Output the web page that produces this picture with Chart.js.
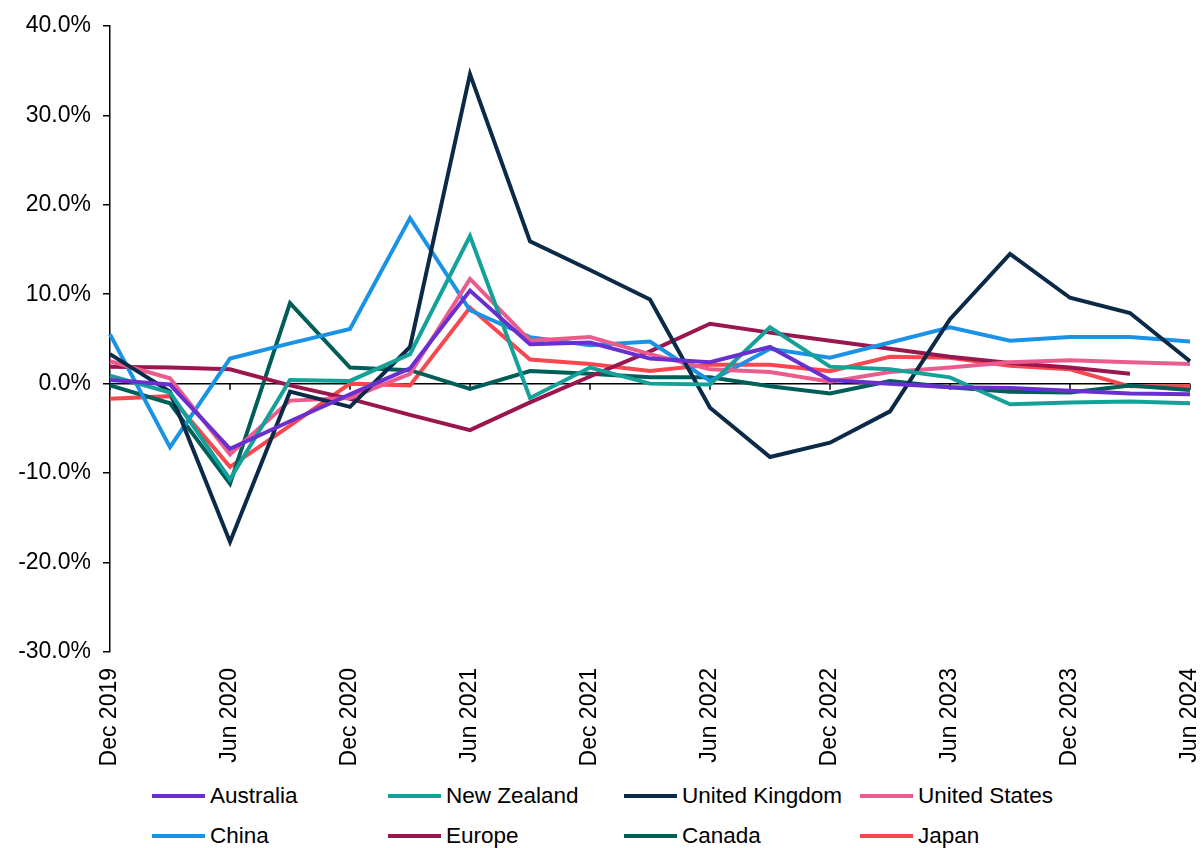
<!DOCTYPE html>
<html lang="en">
<head>
<meta charset="UTF-8">
<title>Chart</title>
<script src="https://cdn.jsdelivr.net/npm/chart.js@4.4.1/dist/chart.umd.min.js"></script>
<style>
    body{ margin:0; background:#fff; font-family:"Liberation Sans", Arial, sans-serif; }
    #board{ position:relative; width:1203px; height:775px; }
    #legend{ position:absolute; left:152px; top:782px; display:grid; grid-template-columns:236px 236px 236px 236px; row-gap:12px; }
    .item{ display:flex; align-items:center; font-size:22.5px; color:#000; height:28px; white-space:nowrap; }
    .swatch{ width:53px; height:4px; margin-right:5px; }
</style>
</head>
<body>
<div id="board"><canvas id="chart1"></canvas></div>
<div id="legend"></div>

<script>
const quarters = ['Dec 2019','Mar 2020','Jun 2020','Sep 2020','Dec 2020','Mar 2021','Jun 2021','Sep 2021','Dec 2021','Mar 2022','Jun 2022','Sep 2022','Dec 2022','Mar 2023','Jun 2023','Sep 2023','Dec 2023','Mar 2024','Jun 2024'];

// % change
const australia     = [0.4,-0.1,-7.3,-4.2,-1.2,1.7,10.4,4.4,4.6,2.8,2.4,4.1,0.4,0.0,-0.4,-0.5,-0.8,-1.1,-1.2];
const newZealand    = [0.9,-1.0,-10.7,0.4,0.3,3.3,16.5,-1.6,1.8,0.0,-0.1,6.3,1.9,1.6,0.7,-2.3,-2.1,-2.0,-2.2];
const unitedKingdom = [3.3,-0.9,-17.7,-0.9,-2.6,4.1,34.6,15.9,12.7,9.4,-2.7,-8.2,-6.6,-3.1,7.2,14.5,9.6,7.9,2.5];
const unitedStates  = [2.5,0.6,-7.9,-1.9,-1.6,1.1,11.7,4.8,5.2,3.3,1.6,1.3,0.2,1.3,1.8,2.4,2.6,2.4,2.2];
const china         = [5.5,-7.1,2.8,4.5,6.1,18.5,8.2,5.2,4.3,4.7,0.3,3.9,2.9,4.6,6.3,4.8,5.2,5.2,4.7];
const europe        = [1.9,1.8,1.6,-0.2,-1.7,-3.5,-5.2,-2.1,0.8,3.6,6.7,5.7,4.8,3.9,3.0,2.3,1.8,1.1,null];
const canada        = [-0.2,-2.2,-11.2,9.0,1.8,1.5,-0.6,1.4,1.1,0.7,0.7,-0.3,-1.1,0.3,-0.4,-0.9,-1.0,-0.2,-0.7];
const japan         = [-1.7,-1.4,-9.3,-4.7,0.0,-0.2,8.5,2.7,2.2,1.4,2.1,2.1,1.4,3.0,2.9,2.0,1.6,-0.3,-0.3];

const yTicks = [40,30,20,10,0,-10,-20,-30];

const series = [
    {label:'Australia',      data:australia,     color:'#6a2fcf'},
    {label:'New Zealand',    data:newZealand,    color:'#14a19a'},
    {label:'United Kingdom', data:unitedKingdom, color:'#0b2a48'},
    {label:'United States',  data:unitedStates,  color:'#ec5b8e'},
    {label:'China',          data:china,         color:'#1a93e6'},
    {label:'Europe',         data:europe,        color:'#99164f'},
    {label:'Canada',         data:canada,        color:'#005e59'},
    {label:'Japan',          data:japan,         color:'#f9474f'}
];

// black zero line with small ticks under it
const zeroAxis = {
    id:'zeroAxis',
    beforeDatasetsDraw(chart){
        const ctx = chart.ctx, x = chart.scales.x, y = chart.scales.y;
        const y0 = y.getPixelForValue(0);
        ctx.save();
        ctx.strokeStyle = '#000';
        ctx.lineWidth = 1.5;
        ctx.beginPath();
        ctx.moveTo(chart.chartArea.left, y0);
        ctx.lineTo(chart.chartArea.right, y0);
        quarters.forEach((q,i)=>{
            if(i%2===0){
                const px = x.getPixelForValue(i);
                ctx.moveTo(px, y0);
                ctx.lineTo(px, y0+6);
            }
        });
        ctx.stroke();
        ctx.restore();
    }
};

const font = {family:'"Liberation Sans", Arial, sans-serif', size:23};

new Chart(document.getElementById('chart1'), {
    type:'line',
    data:{
        labels:quarters,
        datasets:series.map(s=>({
            label:s.label, data:s.data,
            borderColor:s.color, backgroundColor:s.color,
            borderWidth:4, pointRadius:0, tension:0, spanGaps:false
        }))
    },
    options:{
        responsive:true,
        maintainAspectRatio:false,
        animation:false,
        layout:{padding:{top:24, right:13, left:0, bottom:0}},
        plugins:{ legend:{display:false}, tooltip:{enabled:false} },
        scales:{
            x:{
                grid:{display:false},
                border:{display:false},
                ticks:{
                    autoSkip:false, maxRotation:90, minRotation:90, color:'#000', font:font, padding:8,
                    callback:(v,i)=> i%2===0 ? quarters[i] : ''
                },
                afterFit(scale){ scale.height = 123; scale.paddingRight = 0; scale.paddingLeft = 0; }
            },
            y:{
                min:-30, max:40,
                afterBuildTicks(scale){ scale.ticks = yTicks.map(v=>({value:v})); },
                grid:{drawOnChartArea:false, tickLength:7, tickColor:'#000', lineWidth:1.5},
                border:{display:true, color:'#000', width:1.5},
                ticks:{ color:'#000', font:font, padding:12, callback:v=>v.toFixed(1)+'%' },
                afterFit(scale){ scale.width = 110; }
            }
        }
    },
    plugins:[zeroAxis]
});

// legend
const lg = document.getElementById('legend');
series.forEach(s=>{
    const d = document.createElement('div');
    d.className = 'item';
    d.innerHTML = '<span class="swatch" style="background:'+s.color+'"></span>'+s.label;
    lg.appendChild(d);
});
</script>
</body>
</html>
